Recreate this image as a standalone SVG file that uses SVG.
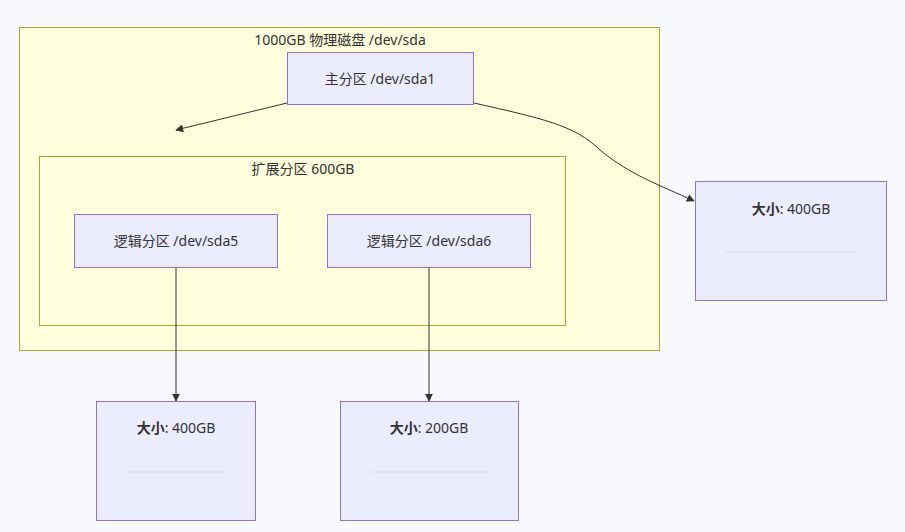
<svg xmlns="http://www.w3.org/2000/svg" width="905" height="532" viewBox="0 0 905 532">
<style>
text{font-family:"Noto Sans","Noto Sans CJK SC",sans-serif;font-size:14px;fill:#333;text-anchor:middle}
.cl{fill:#ffffde;stroke:#aaaa33;stroke-width:1}
.n{fill:#ececff;stroke:#9370db;stroke-width:1}
.e{fill:none;stroke:#333;stroke-width:1}
.d{stroke:#dcdcec;stroke-width:1}
b{font-weight:bold}
</style>
<defs><marker id="a" viewBox="0 0 10 10" refX="9" refY="5" markerWidth="8" markerHeight="8" orient="auto"><path d="M0,0L10,5L0,10z" fill="#333"/></marker></defs>
<rect width="905" height="532" fill="#f8f9fc"/>
<g id="disk"><rect class="cl" x="19.5" y="27.5" width="640" height="323"/><text x="340" y="45">1000GB 物理磁盘 /dev/sda</text></g>
<g id="ext"><rect class="cl" x="39.5" y="156.5" width="526" height="169"/><text x="303" y="174">扩展分区 600GB</text></g>
<g id="edges">
<path class="e" marker-end="url(#a)" d="M287,103L176,130"/>
<path class="e" marker-end="url(#a)" d="M474,103C540,118 575,125 600,150C630,175 660,185 694,201"/>
<path class="e" marker-end="url(#a)" d="M176,268V401"/>
<path class="e" marker-end="url(#a)" d="M429,268V401"/>
</g>
<g id="p1"><rect class="n" x="287.5" y="52.5" width="186" height="52"/><text x="380" y="84">主分区 /dev/sda1</text></g>
<g id="l5"><rect class="n" x="74.5" y="214.5" width="203" height="53"/><text x="176" y="246">逻辑分区 /dev/sda5</text></g>
<g id="l6"><rect class="n" x="327.5" y="214.5" width="203" height="53"/><text x="429" y="246">逻辑分区 /dev/sda6</text></g>
<g id="s1"><rect class="n" x="695.5" y="181.5" width="191" height="119"/><text x="791" y="214"><tspan font-weight="bold">大小</tspan>: 400GB</text><line class="d" x1="725" y1="252" x2="857" y2="252"/></g>
<g id="s2"><rect class="n" x="96.5" y="401.5" width="159" height="119"/><text x="176" y="433"><tspan font-weight="bold">大小</tspan>: 400GB</text><line class="d" x1="126" y1="472" x2="226" y2="472"/></g>
<g id="s3"><rect class="n" x="340.5" y="401.5" width="178" height="119"/><text x="429" y="433"><tspan font-weight="bold">大小</tspan>: 200GB</text><line class="d" x1="370" y1="472" x2="489" y2="472"/></g>
</svg>
